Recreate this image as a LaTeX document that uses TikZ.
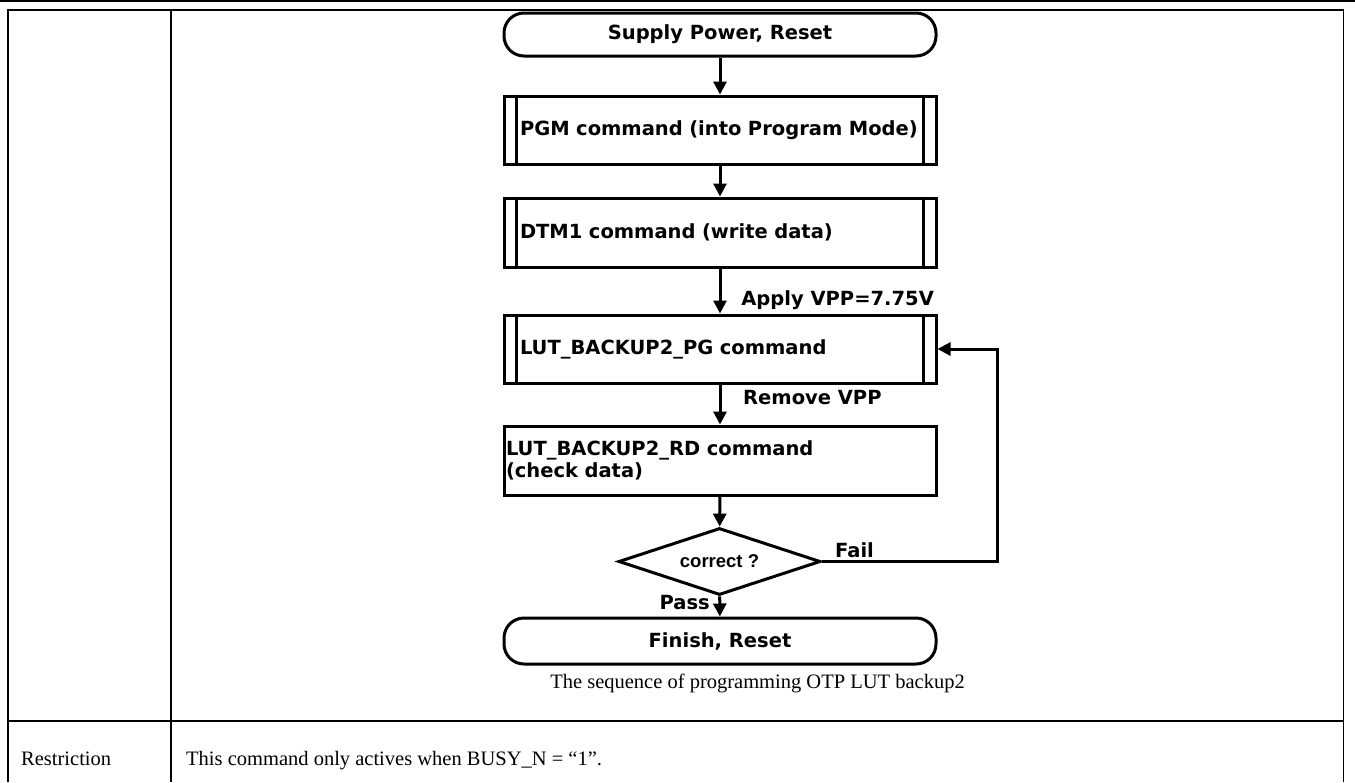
\documentclass[tikz,border=0pt]{standalone}
\usepackage{fontspec}
\setmainfont{Liberation Serif}
\newfontfamily\flowfont{DejaVu Sans}
\newfontfamily\arialfont{Liberation Sans}
\usetikzlibrary{shapes.geometric,arrows.meta}
\tikzset{
  tbl/.style={line width=1.6pt},
  flowtext/.style={font=\flowfont\bfseries\fontsize{19.5}{22}\selectfont},
  arr/.style={line width=3pt,-{Triangle[length=13pt,width=13pt]}},
  term/.style={draw,line width=3pt,rounded corners=20pt,minimum width=432pt,inner sep=0pt,flowtext},
  proc/.style={draw,line width=3pt,minimum height=68pt,text width=400pt,inner xsep=16pt,align=left,flowtext},
  plain/.style={draw,line width=3pt,minimum height=69pt,text width=428pt,inner xsep=2pt,align=left,flowtext},
  decision/.style={draw,diamond,aspect=3,line width=3pt,minimum width=202pt,minimum height=67pt,inner sep=0pt,
    font=\arialfont\bfseries\fontsize{18.5}{21}\selectfont},
  lbl/.style={flowtext,inner sep=0pt},
  serif/.style={font=\fontsize{20.5}{24}\selectfont,inner sep=0pt}
}
\begin{document}
\begin{tikzpicture}[x=1pt,y=-1pt]
\useasboundingbox (0,0) rectangle (1355,782);
% table
\draw[line width=2.3pt] (0,1.2) -- (1355,1.2);
\draw[tbl] (8,782) -- (8,9.7) -- (1343.5,9.7) -- (1343.5,782);
\draw[tbl] (171,9.7) -- (171,782);
\draw[tbl] (8,721) -- (1343.5,721);
% flowchart nodes
\node[term,minimum height=43pt] (sup) at (720,34.5) {Supply Power, Reset};
\node[proc] (pgm) at (720,130) {PGM command (into Program Mode)};
\node[proc,minimum height=69pt] (dtm) at (720,232.5) {DTM1 command (write data)};
\node[proc] (pg) at (720,349) {LUT\_BACKUP2\_PG command};
\node[plain] (rd) at (720,460.5) {LUT\_BACKUP2\_RD command\\(check data)};
\node[decision] (dec) at (719.5,561.5) {correct ?};
\node[term,minimum height=46pt] (fin) at (720,641) {Finish, Reset};
% inner bars of predefined-process boxes
\foreach \n in {pgm,dtm,pg}{
  \draw[line width=3pt] ([xshift=14pt]\n.north west) -- ([xshift=14pt]\n.south west);
  \draw[line width=3pt] ([xshift=-14pt]\n.north east) -- ([xshift=-14pt]\n.south east);
}
% connectors
\draw[arr] (sup) -- (pgm);
\draw[arr] (pgm) -- (dtm);
\draw[arr] (dtm) -- (pg);
\draw[arr] (pg) -- (rd);
\draw[arr] (rd) -- (dec);
\draw[arr] (dec) -- (fin);
\coordinate (loopc) at (997,561.5);
\draw[arr] (dec.east) -- (loopc) |- (pg.east);
% labels
\node[lbl,anchor=east] (l1) at (934,300) {Apply VPP=7.75V};
\node[lbl,anchor=west] (l2) at (743,398) {Remove VPP};
\node[lbl,anchor=west] (l3) at (835,550) {Fail};
\node[lbl,anchor=east] (l4) at (710,603) {Pass};
% caption and table texts
\node[serif,anchor=base] (cap) at (757.5,688) {The sequence of programming OTP LUT backup2};
\node[serif,anchor=base west] (r1) at (21,765) {Restriction};
\node[serif,anchor=base west] (r2) at (186,765) {This command only actives when BUSY\_N = “1”.};
\end{tikzpicture}
\end{document}
